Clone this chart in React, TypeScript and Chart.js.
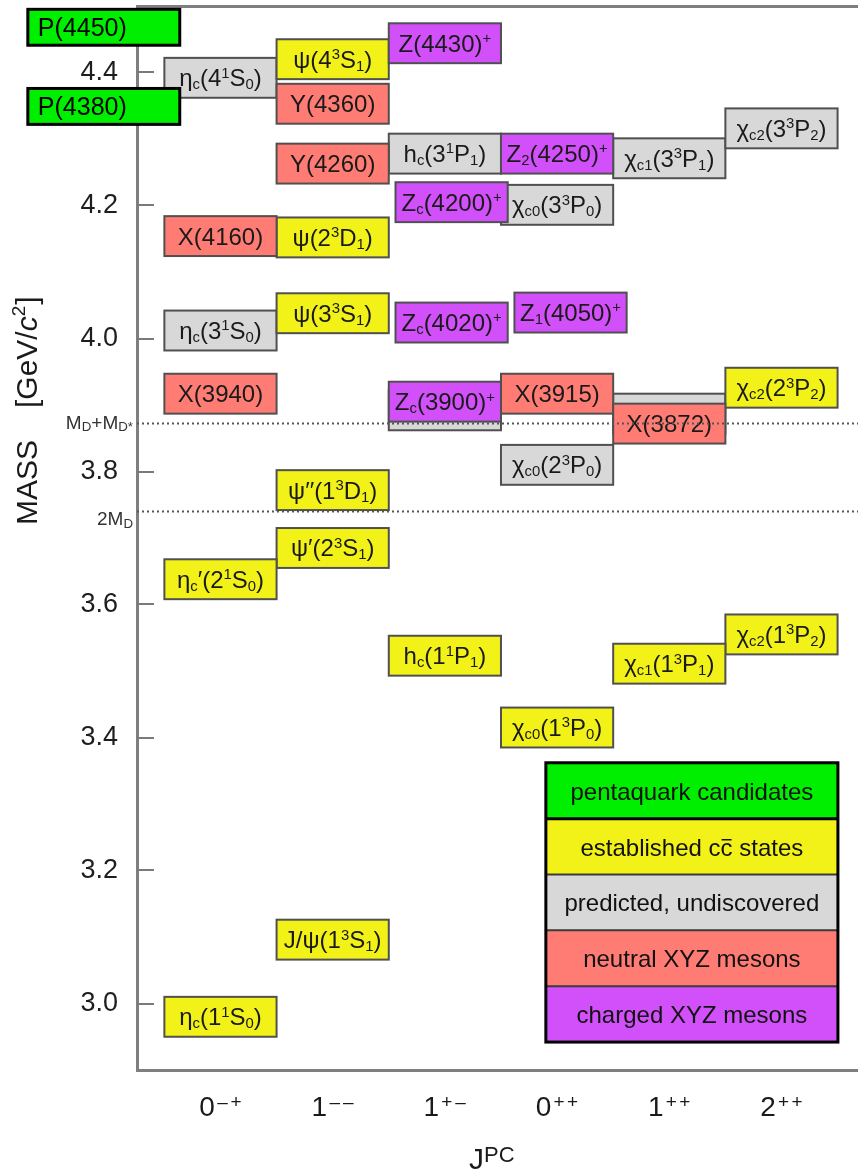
import { useEffect, useRef } from 'react';
import { Chart, registerables } from 'chart.js';

Chart.register(...registerables);

// ---- data ----
const jpcSpin = ['0', '1', '1', '0', '1', '2'];
const jpcPC = ['–+', '––', '+–', '++', '++', '++'];

const yMin = 2.9;
const yMax = 4.5;
const yTickValues = [3.0, 3.2, 3.4, 3.6, 3.8, 4.0, 4.2, 4.4];

// predicted, undiscovered (grey)
const predictedLabels = ['η_c(4^1S_0)', 'h_c(3^1P_1)', 'χ_{c1}(3^3P_1)', 'χ_{c2}(3^3P_2)', 'χ_{c0}(3^3P_0)', 'η_c(3^1S_0)', '', '', 'χ_{c0}(2^3P_0)'];
const predictedCol = [0, 2, 4, 5, 3, 0, 2, 4, 3];
const predictedMass = [4.392, 4.278, 4.271, 4.316, 4.201, 4.012, 3.892, 3.887, 3.81];

// established cc̄ states (yellow)
const establishedLabels = ['ψ(4^3S_1)', 'ψ(2^3D_1)', 'ψ(3^3S_1)', 'χ_{c2}(2^3P_2)', 'ψ′′(1^3D_1)', 'ψ′(2^3S_1)', 'η_c′(2^1S_0)', 'h_c(1^1P_1)', 'χ_{c2}(1^3P_2)', 'χ_{c1}(1^3P_1)', 'χ_{c0}(1^3P_0)', 'J/ψ(1^3S_1)', 'η_c(1^1S_0)'];
const establishedCol = [1, 1, 1, 5, 1, 1, 0, 2, 5, 4, 3, 1, 0];
const establishedMass = [4.42, 4.152, 4.038, 3.926, 3.772, 3.685, 3.638, 3.523, 3.555, 3.511, 3.415, 3.096, 2.98];

// neutral XYZ mesons (red)
const neutralLabels = ['Y(4360)', 'Y(4260)', 'X(4160)', 'X(3940)', 'X(3915)', 'X(3872)'];
const neutralCol = [1, 1, 0, 0, 3, 4];
const neutralMass = [4.353, 4.263, 4.154, 3.917, 3.917, 3.872];

// charged XYZ mesons (purple)
const chargedLabels = ['Z(4430)^+', 'Z_2(4250)^+', 'Z_c(4200)^+', 'Z_c(4020)^+', 'Z_1(4050)^+', 'Z_c(3900)^+'];
const chargedCol = [2, 3, 2.06, 2.06, 3.12, 2];
const chargedMass = [4.444, 4.278, 4.205, 4.024, 4.039, 3.905];

// pentaquark candidates (green)
const pentaLabels = ['P(4450)', 'P(4380)'];
const pentaCol = [-1.04, -1.04];
const pentaMass = [4.468, 4.349];

// thresholds
const thresholdLabels = ['M_D+M_{D*}', '2M_D'];
const thresholdMass = [3.872, 3.74];

const legendLabels = ['pentaquark candidates', 'established c~c states', 'predicted, undiscovered', 'neutral XYZ mesons', 'charged XYZ mesons'];

// ---- styles ----
const FONT = '"Liberation Sans", Arial, Helvetica, sans-serif';
const COLORS = {
  penta: '#00EE00',
  established: '#F2F218',
  predicted: '#D8D8D8',
  neutral: '#FF7C74',
  charged: '#D250FA',
};
const legendColors = [COLORS.penta, COLORS.established, COLORS.predicted, COLORS.neutral, COLORS.charged];

type Seg = { t: string; k: 'n' | 'sub' | 'sup' | 'over' };

function parseRich(s: string): Seg[] {
  const out: Seg[] = [];
  let buf = '';
  const flush = () => {
    if (buf) {
      out.push({ t: buf, k: 'n' });
      buf = '';
    }
  };
  for (let i = 0; i < s.length; i++) {
    const ch = s[i];
    if (ch === '_' || ch === '^' || ch === '~') {
      flush();
      let t = '';
      if (s[i + 1] === '{') {
        const j = s.indexOf('}', i + 2);
        t = s.slice(i + 2, j);
        i = j;
      } else {
        t = s[i + 1];
        i++;
      }
      out.push({ t, k: ch === '_' ? 'sub' : ch === '^' ? 'sup' : 'over' });
    } else buf += ch;
  }
  flush();
  return out;
}

function segFont(k: string, size: number, scale: number) {
  const s = k === 'sub' || k === 'sup' ? size * scale : size;
  return `${s}px ${FONT}`;
}

function drawRich(
  ctx: CanvasRenderingContext2D,
  text: string,
  x: number,
  y: number,
  size: number,
  align: 'left' | 'center' | 'right',
  color: string,
  scale = 0.62
) {
  const segs = parseRich(text);
  let w = 0;
  const widths: number[] = [];
  for (const sg of segs) {
    ctx.font = segFont(sg.k, size, scale);
    const m = ctx.measureText(sg.t).width;
    widths.push(m);
    w += m;
  }
  let cx = align === 'left' ? x : align === 'center' ? x - w / 2 : x - w;
  ctx.fillStyle = color;
  ctx.strokeStyle = color;
  ctx.textAlign = 'left';
  ctx.textBaseline = 'alphabetic';
  segs.forEach((sg, i) => {
    ctx.font = segFont(sg.k, size, scale);
    let dy = 0;
    if (sg.k === 'sub') dy = 0.12 * size;
    if (sg.k === 'sup') dy = -0.36 * size;
    ctx.fillText(sg.t, cx, y + dy);
    if (sg.k === 'over') {
      ctx.lineWidth = 1.5;
      ctx.beginPath();
      ctx.moveTo(cx + 1, y - 0.66 * size);
      ctx.lineTo(cx + widths[i] - 1, y - 0.66 * size);
      ctx.stroke();
    }
    cx += widths[i];
  });
}

const boxPlugin = {
  id: 'charmoniumBoxes',
  afterDatasetsDraw(chart: any) {
    const ctx: CanvasRenderingContext2D = chart.ctx;
    const xs = chart.scales.x;
    const ys = chart.scales.y;
    const area = chart.chartArea;
    ctx.save();

    // inward tick marks on the mass axis
    ctx.strokeStyle = '#7a7a7a';
    ctx.lineWidth = 2;
    for (const t of ys.ticks) {
      const py = Math.round(ys.getPixelForValue(t.value));
      ctx.beginPath();
      ctx.moveTo(area.left, py);
      ctx.lineTo(area.left + 17, py);
      ctx.stroke();
    }

    const halfW = 0.5;
    const halfH = 0.03;
    // datasets 0..3 are the meson boxes
    chart.data.datasets.forEach((ds: any, di: number) => {
      if (di > 3) return;
      const meta = chart.getDatasetMeta(di);
      ds.data.forEach((d: any, i: number) => {
        const pt = meta.data[i];
        const l = xs.getPixelForValue(d.x - halfW);
        const r = xs.getPixelForValue(d.x + halfW);
        const t = ys.getPixelForValue(d.y + halfH);
        const b = ys.getPixelForValue(d.y - halfH);
        ctx.fillStyle = ds.backgroundColor;
        ctx.fillRect(l, t, r - l, b - t);
        ctx.strokeStyle = '#505050';
        ctx.lineWidth = 2;
        ctx.strokeRect(l, t, r - l, b - t);
        if (ds.labels[i]) drawRich(ctx, ds.labels[i], pt.x, pt.y + 8.5, 24, 'center', '#1a1a1a');
      });
    });

    // threshold dotted lines (on top of boxes)
    thresholdMass.forEach((m, i) => {
      const py = ys.getPixelForValue(m);
      ctx.save();
      ctx.setLineDash([2, 3]);
      ctx.strokeStyle = '#555';
      ctx.lineWidth = 2;
      ctx.beginPath();
      ctx.moveTo(area.left, py);
      ctx.lineTo(area.right, py);
      ctx.stroke();
      ctx.restore();
      drawRich(ctx, thresholdLabels[i], area.left - 4, py + (i === 0 ? 5 : 14), 19, 'right', '#333', 0.7);
    });

    // pentaquark boxes (over the axis)
    const pds = chart.data.datasets[4];
    const pmeta = chart.getDatasetMeta(4);
    pds.data.forEach((d: any, i: number) => {
      const pt = pmeta.data[i];
      const l = xs.getPixelForValue(d.x - 0.677);
      const r = xs.getPixelForValue(d.x + 0.677);
      const t = ys.getPixelForValue(d.y + 0.027);
      const b = ys.getPixelForValue(d.y - 0.027);
      ctx.fillStyle = pds.backgroundColor;
      ctx.fillRect(l, t, r - l, b - t);
      ctx.strokeStyle = '#000';
      ctx.lineWidth = 3;
      ctx.strokeRect(l, t, r - l, b - t);
      drawRich(ctx, pds.labels[i], l + 10, pt.y + 9, 25, 'left', '#000');
    });

    // legend
    const lx0 = xs.getPixelForValue(2.9);
    const lx1 = xs.getPixelForValue(5.503);
    const ly0 = ys.getPixelForValue(3.362);
    const ly1 = ys.getPixelForValue(2.942);
    const rowH = (ly1 - ly0) / legendLabels.length;
    legendLabels.forEach((lab, i) => {
      const top = ly0 + i * rowH;
      ctx.fillStyle = legendColors[i];
      ctx.fillRect(lx0, top, lx1 - lx0, rowH);
      if (i > 0) {
        ctx.strokeStyle = i === 1 ? '#000' : '#3a3a3a';
        ctx.lineWidth = i === 1 ? 3 : 2;
        ctx.beginPath();
        ctx.moveTo(lx0, top);
        ctx.lineTo(lx1, top);
        ctx.stroke();
      }
      drawRich(ctx, lab, (lx0 + lx1) / 2, top + rowH / 2 + 9, 24, 'center', '#111');
    });
    ctx.strokeStyle = '#000';
    ctx.lineWidth = 3;
    ctx.strokeRect(lx0, ly0, lx1 - lx0, ly1 - ly0);

    ctx.restore();
  },
  afterDraw(chart: any) {
    const ctx: CanvasRenderingContext2D = chart.ctx;
    const xs = chart.scales.x;
    ctx.save();
    ctx.fillStyle = '#1a1a1a';
    ctx.textBaseline = 'alphabetic';
    ctx.textAlign = 'left';

    // J^PC category labels
    jpcSpin.forEach((j, i) => {
      const cx = xs.getPixelForValue(i);
      ctx.font = `28px ${FONT}`;
      const w1 = ctx.measureText(j).width;
      ctx.font = `19px ${FONT}`;
      const chars = jpcPC[i].split('');
      const adv = 13.5;
      const w2 = adv * chars.length;
      const start = cx - (w1 + w2) / 2;
      ctx.font = `28px ${FONT}`;
      ctx.fillText(j, start, 1116);
      ctx.font = `19px ${FONT}`;
      chars.forEach((c, k) => {
        const cw = ctx.measureText(c).width;
        ctx.fillText(c, start + w1 + 1 + k * adv + (adv - cw) / 2, 1108);
      });
    });

    // x title J^PC
    ctx.font = `30px ${FONT}`;
    ctx.fillText('J', 469, 1169);
    const jw = ctx.measureText('J').width;
    ctx.font = `22px ${FONT}`;
    ctx.fillText('PC', 469 + jw, 1162);

    // y title
    ctx.translate(37, 525);
    ctx.rotate(-Math.PI / 2);
    ctx.font = `30px ${FONT}`;
    ctx.fillText('MASS', 0, 0);
    let px = 117;
    ctx.fillText('[GeV/', px, 0);
    px += ctx.measureText('[GeV/').width;
    ctx.font = `italic 30px ${FONT}`;
    ctx.fillText('c', px, 0);
    px += ctx.measureText('c').width;
    ctx.font = `19px ${FONT}`;
    ctx.fillText('2', px, -12);
    px += ctx.measureText('2').width + 1;
    ctx.font = `30px ${FONT}`;
    ctx.fillText(']', px, 0);
    ctx.restore();
  },
};

function toPoints(cols: number[], masses: number[]) {
  return cols.map((c, i) => ({ x: c, y: masses[i] }));
}

export default function App() {
  const ref = useRef<HTMLCanvasElement>(null);

  useEffect(() => {
    if (!ref.current) return;
    const xMin = -0.744;
    const xMax = 5.682;
    const chart = new Chart(ref.current, {
      type: 'scatter',
      data: {
        datasets: [
          { label: 'predicted, undiscovered', data: toPoints(predictedCol, predictedMass), labels: predictedLabels, backgroundColor: COLORS.predicted, pointRadius: 0 } as any,
          { label: 'established cc̄ states', data: toPoints(establishedCol, establishedMass), labels: establishedLabels, backgroundColor: COLORS.established, pointRadius: 0 } as any,
          { label: 'neutral XYZ mesons', data: toPoints(neutralCol, neutralMass), labels: neutralLabels, backgroundColor: COLORS.neutral, pointRadius: 0 } as any,
          { label: 'charged XYZ mesons', data: toPoints(chargedCol, chargedMass), labels: chargedLabels, backgroundColor: COLORS.charged, pointRadius: 0 } as any,
          { label: 'pentaquark candidates', data: toPoints(pentaCol, pentaMass), labels: pentaLabels, backgroundColor: COLORS.penta, pointRadius: 0, clip: false } as any,
        ],
      },
      options: {
        responsive: false,
        maintainAspectRatio: false,
        animation: false,
        devicePixelRatio: 1,
        layout: { padding: 0, autoPadding: false },
        plugins: { legend: { display: false }, tooltip: { enabled: false } },
        events: [],
        scales: {
          x: {
            type: 'linear',
            position: 'bottom',
            min: xMin,
            max: xMax,
            ticks: { display: false },
            grid: { display: false },
            border: { display: true, color: '#7f7f7f', width: 3 },
            afterFit: (s: any) => {
              s.height = 102;
              s.paddingLeft = 0;
              s.paddingRight = 0;
            },
          },
          xTop: {
            type: 'linear',
            position: 'top',
            min: xMin,
            max: xMax,
            ticks: { display: false },
            grid: { display: false },
            border: { display: true, color: '#7f7f7f', width: 3 },
            afterFit: (s: any) => {
              s.height = 6;
              s.paddingLeft = 0;
              s.paddingRight = 0;
            },
          },
          y: {
            type: 'linear',
            position: 'left',
            min: yMin,
            max: yMax,
            afterBuildTicks: (s: any) => {
              s.ticks = yTickValues.map((v) => ({ value: v }));
            },
            ticks: {
              padding: 11,
              color: '#1e1e1e',
              font: { family: FONT, size: 27 },
              callback: (v: any) => Number(v).toFixed(1),
            },
            grid: { display: false },
            border: { display: true, color: '#7f7f7f', width: 3 },
            afterFit: (s: any) => {
              s.width = 137;
              s.paddingTop = 0;
              s.paddingBottom = 0;
            },
          },
        } as any,
      },
      plugins: [boxPlugin],
    });
    return () => chart.destroy();
  }, []);

  return (
    <div style={{ position: 'fixed', left: 0, top: 0, width: 858, height: 1172, overflow: 'hidden', background: '#fff' }}>
      <canvas ref={ref} width={858} height={1172} style={{ display: 'block', width: 858, height: 1172 }} />
    </div>
  );
}
